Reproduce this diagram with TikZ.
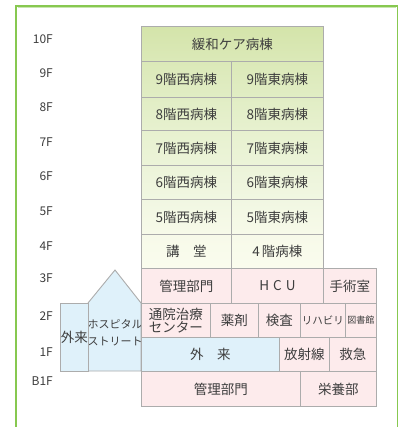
\documentclass[tikz,border=0pt]{standalone}
\usepackage{fontspec}
\setmainfont{Noto Sans CJK JP}
\definecolor{framegreen}{RGB}{135,200,80}
\definecolor{cellline}{RGB}{172,172,172}
\definecolor{txt}{RGB}{62,62,62}
\definecolor{pinkc}{RGB}{253,235,236}
\definecolor{bluec}{RGB}{223,241,250}
\definecolor{gA}{RGB}{212,228,170}
\definecolor{gB}{RGB}{219,233,184}
\definecolor{gC}{RGB}{225,237,196}
\definecolor{gD}{RGB}{231,241,207}
\definecolor{gE}{RGB}{236,244,217}
\definecolor{gF}{RGB}{241,247,226}
\definecolor{gG}{RGB}{247,250,233}
\definecolor{gH}{RGB}{250,252,238}
\tikzset{
  cellsty/.style={draw=cellline, line width=0.9pt, inner sep=0pt, text=txt,
    font=\fontsize{13.5}{14}\selectfont, align=center},
  floorlbl/.style={anchor=east, inner sep=0pt, text=txt, font=\fontsize{12}{13}\selectfont},
}
\newcommand\cellbox[7]{\node[cellsty,#6,minimum width={(#4-#2)*1pt},minimum height={(#5-#3)*1pt},anchor=north west] (#1) at (#2,#3) {#7};}
\begin{document}
\begin{tikzpicture}[x=1pt,y=-1pt]
\useasboundingbox (0,0) rectangle (406,427);
\fill[white] (0,0) rectangle (406,427);
\begin{scope}
\clip (0,0) rectangle (406,427);
\draw[framegreen, line width=1.6pt] (15.8,5.8) rectangle (397.5,460);
\draw[framegreen!45, line width=0.8pt] (17.6,7.6) -- (395.7,7.6);
\end{scope}
% floor labels
\node[floorlbl] (l10) at (53,39) {10F};
\node[floorlbl] (l9) at (53,73) {9F};
\node[floorlbl] (l8) at (53,107) {8F};
\node[floorlbl] (l7) at (53,142) {7F};
\node[floorlbl] (l6) at (53,176) {6F};
\node[floorlbl] (l5) at (53,211) {5F};
\node[floorlbl] (l4) at (53,246) {4F};
\node[floorlbl] (l3) at (53,278) {3F};
\node[floorlbl] (l2) at (53,316) {2F};
\node[floorlbl] (l1) at (53,352) {1F};
\node[floorlbl] (lb1) at (53,381) {B1F};
% left annex
\draw[cellline, line width=0.9pt, fill=bluec] (88,303) -- (115,270) -- (141,303) -- (141,371) -- (88,371) -- cycle;
\node[text=txt, inner sep=0pt, align=center, font=\fontsize{11}{17}\selectfont] (hs) at (115,333) {ホスピタル\\ストリート};
\cellbox{gairaiL}{60}{303}{88}{371}{fill=bluec}{外来}
% tower
\cellbox{f10}{141}{26}{323}{61}{top color=gA,bottom color=gB}{緩和ケア病棟}
\cellbox{f9w}{141}{61}{231}{97}{top color=gB,bottom color=gC}{9階西病棟}
\cellbox{f9e}{231}{61}{323}{97}{top color=gB,bottom color=gC}{9階東病棟}
\cellbox{f8w}{141}{97}{231}{130}{top color=gC,bottom color=gD}{8階西病棟}
\cellbox{f8e}{231}{97}{323}{130}{top color=gC,bottom color=gD}{8階東病棟}
\cellbox{f7w}{141}{130}{231}{165}{top color=gD,bottom color=gE}{7階西病棟}
\cellbox{f7e}{231}{130}{323}{165}{top color=gD,bottom color=gE}{7階東病棟}
\cellbox{f6w}{141}{165}{231}{199}{top color=gE,bottom color=gF}{6階西病棟}
\cellbox{f6e}{231}{165}{323}{199}{top color=gE,bottom color=gF}{6階東病棟}
\cellbox{f5w}{141}{199}{231}{234}{top color=gF,bottom color=gG}{5階西病棟}
\cellbox{f5e}{231}{199}{323}{234}{top color=gF,bottom color=gG}{5階東病棟}
\cellbox{f4w}{141}{234}{231}{268}{top color=gG,bottom color=gH}{講　堂}
\cellbox{f4e}{231}{234}{323}{268}{top color=gG,bottom color=gH}{4\hspace{2pt}階病棟}
% 3F
\cellbox{f3a}{141}{268}{231}{303}{fill=pinkc}{管理部門}
\cellbox{f3b}{231}{268}{323}{303}{fill=pinkc}{H\hspace{4pt}C\hspace{4pt}U}
\cellbox{f3c}{323}{268}{376}{303}{fill=pinkc}{手術室}
% 2F
\cellbox{f2a}{141}{303}{210}{337}{fill=pinkc,font=\fontsize{13.5}{13}\selectfont}{通院治療\\センター}
\cellbox{f2b}{210}{303}{258}{337}{fill=pinkc}{薬剤}
\cellbox{f2c}{258}{303}{300}{337}{fill=pinkc}{検査}
\cellbox{f2d}{300}{303}{345}{337}{fill=pinkc,font=\fontsize{10.5}{12}\selectfont}{リハビリ}
\cellbox{f2e}{345}{303}{376}{337}{fill=pinkc,font=\fontsize{9}{10}\selectfont}{図書館}
% 1F
\cellbox{f1a}{141}{337}{279}{371}{fill=bluec}{外　来}
\cellbox{f1b}{279}{337}{329}{371}{fill=pinkc}{放射線}
\cellbox{f1c}{329}{337}{376}{371}{fill=pinkc}{救急}
% B1F
\cellbox{fb1a}{141}{371}{300}{406}{fill=pinkc}{管理部門}
\cellbox{fb1b}{300}{371}{376}{406}{fill=pinkc}{栄養部}
\end{tikzpicture}
\end{document}
